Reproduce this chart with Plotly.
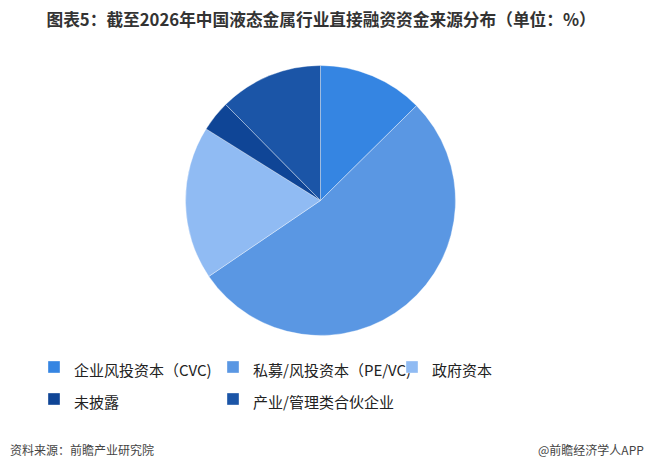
import plotly.graph_objects as go

labels = ["企业风投资本（CVC)", "私募/风投资本（PE/VC)", "政府资本", "未披露", "产业/管理类合伙企业"]
values = [12.6, 52.9, 18.4, 3.7, 12.4]
colors = ["#3585E2", "#5A97E3", "#90BBF3", "#0F4596", "#1B55A7"]

title = "图表5：截至2026年中国液态金属行业直接融资资金来源分布（单位：%）"
source = "资料来源：前瞻产业研究院"
brand = "@前瞻经济学人APP"

W, H = 650, 476
cx, cy, r = 320.5, 200.5, 135

legend_text = ['<span style="font-size:15px">' + l + '</span>' for l in labels]

fig = go.Figure(go.Pie(
    labels=legend_text, values=values, sort=False, direction="clockwise", rotation=0,
    marker=dict(colors=colors, line=dict(color="rgba(255,255,255,0.6)", width=0.6)),
    textinfo="none", hovertext=labels, hoverinfo="text+value",
    domain=dict(x=[(cx - r) / W, (cx + r) / W], y=[(H - cy - r) / H, (H - cy + r) / H]),
))

fig.update_layout(
    width=W, height=H,
    margin=dict(l=0, r=0, t=0, b=0),
    paper_bgcolor="white", plot_bgcolor="white",
    font=dict(family="Noto Sans CJK SC", color="#333333"),
    title=dict(text="<b>" + title + "</b>", x=0.494, xanchor="center", y=1 - 20 / H, yanchor="middle",
               font=dict(size=16.7, color="#333333", family="Noto Sans CJK SC")),
    showlegend=True,
    legend=dict(orientation="h", x=44 / W, xanchor="left", y=1 - 346 / H, yanchor="top",
                entrywidth=144, entrywidthmode="pixels", itemwidth=30, indentation=-10,
                font=dict(size=22.3, color="#222222", family="Noto Sans CJK SC"),
                traceorder="normal", itemclick=False),
    annotations=[
        dict(text=source, x=8 / W, y=1 - 449 / H, xref="paper", yref="paper", xanchor="left",
             yanchor="middle", showarrow=False, font=dict(size=12, color="#444444")),
        dict(text=brand, x=646 / W, y=1 - 449 / H, xref="paper", yref="paper", xanchor="right",
             yanchor="middle", showarrow=False, font=dict(size=12, color="#444444")),
    ],
)

fig.write_html("out.html", config={"displayModeBar": False},
               post_script="document.body.style.margin='0';")
